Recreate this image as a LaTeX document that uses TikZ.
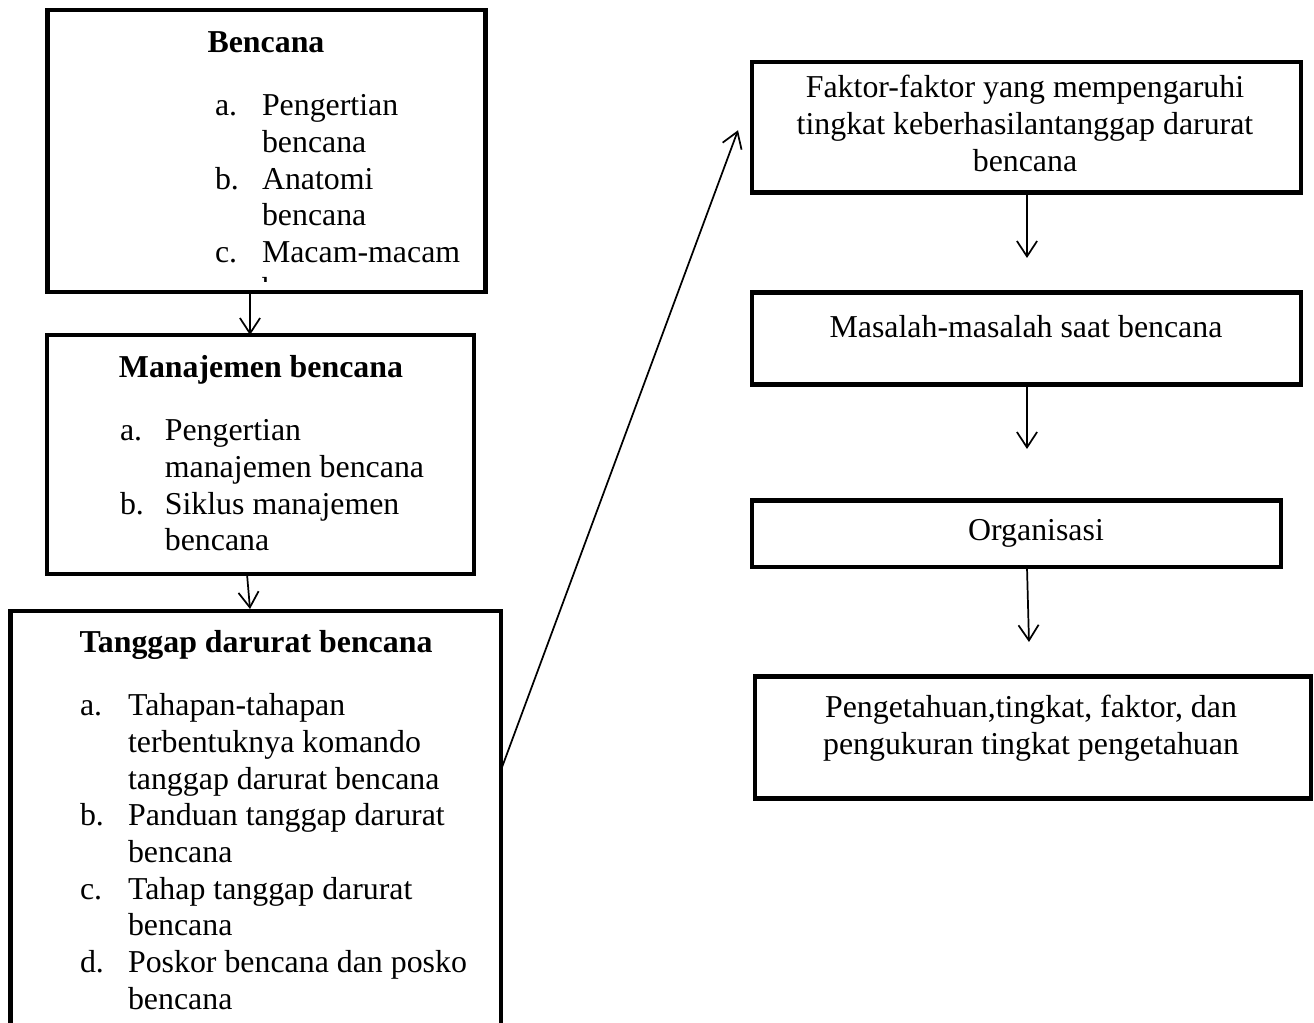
\documentclass[tikz,border=0pt]{standalone}
\usepackage{fontspec}
\setmainfont{Liberation Serif}
\usetikzlibrary{arrows.meta,fit}
\newdimen\pxu \pxu=0.3766pt
\begin{document}
\begin{tikzpicture}[x=0.3766pt,y=-0.3766pt,
  box/.style={draw,line width=1.6pt,rectangle,inner sep=0pt,outer sep=0pt},
  txt/.style={inner sep=0pt,outer sep=0pt,font=\fontsize{12}{13.8}\selectfont},
  ttl/.style={inner sep=0pt,outer sep=0pt,font=\fontsize{12}{13.8}\selectfont\bfseries},
  arr/.style={line width=0.65pt,-{Straight Barb[length=5.8pt,width=7.6pt]}}]
\useasboundingbox (0,0) rectangle (1314,1023);
\clip (0,0) rectangle (1314,1023);

% left column boxes
\node[box,fit={(47.5,10) (485.5,292)}] (b1) {};
\node[box,fit={(47,335) (474,574)}] (b2) {};
\node[box,fit={(10.5,611) (501,1060)}] (b3) {};

% box 1 text
\node[ttl,anchor=base] (b1t) at (266,53) {Bencana};
\begin{scope}
\clip (50,12) rectangle (483,282);
\node[txt,anchor=base west] (b1l) at (215,116) {\begin{tabular}[t]{@{}p{17.7pt}@{}l@{}}
a. & Pengertian\\
 & bencana\\
b. & Anatomi\\
 & bencana\\
c. & Macam-macam\\
 & bencana
\end{tabular}};
\end{scope}

% box 2 text
\node[ttl,anchor=base] (b2t) at (261,378) {Manajemen bencana};
\node[txt,anchor=base west] (b2l) at (120,441) {\begin{tabular}[t]{@{}p{16.9pt}@{}l@{}}
a. & Pengertian\\
 & manajemen bencana\\
b. & Siklus manajemen\\
 & bencana
\end{tabular}};

% box 3 text
\node[ttl,anchor=base] (b3t) at (256,653) {Tanggap darurat bencana};
\node[txt,anchor=base west] (b3l) at (80,716) {\begin{tabular}[t]{@{}p{18.1pt}@{}l@{}}
a. & Tahapan-tahapan\\
 & terbentuknya komando\\
 & tanggap darurat bencana\\
b. & Panduan tanggap darurat\\
 & bencana\\
c. & Tahap tanggap darurat\\
 & bencana\\
d. & Poskor bencana dan posko\\
 & bencana
\end{tabular}};

% right column boxes
\node[box,fit={(752,62) (1301,192.5)}] (f) {};
\node[box,fit={(752,292.5) (1301,384.5)}] (m) {};
\node[box,fit={(752,500.5) (1281,567)}] (o) {};
\node[box,fit={(755,676.5) (1311,798.5)}] (p) {};

\node[txt,anchor=base] (ft) at (1025,98) {\begin{tabular}[t]{@{}c@{}}
Faktor-faktor yang mempengaruhi\\
tingkat keberhasilantanggap darurat\\
bencana
\end{tabular}};
\node[txt,anchor=base] (mt) at (1026,338) {Masalah-masalah saat bencana};
\node[txt,anchor=base] (ot) at (1036,541) {Organisasi};
\node[txt,anchor=base] (pt) at (1031,718) {\begin{tabular}[t]{@{}c@{}}
Pengetahuan,tingkat, faktor, dan\\
pengukuran tingkat pengetahuan
\end{tabular}};

% connectors
\draw[arr] ([xshift=-16.5\pxu]b1.south) -- ([xshift=-10.5\pxu]b2.north);
\draw[arr] ([xshift=-13.5\pxu]b2.south) -- ([xshift=-5.75\pxu,yshift=2\pxu]b3.north);
\draw[arr] ([yshift=-159\pxu]b3.north east) -- ([xshift=-14\pxu,yshift=-3\pxu]f.west);
\draw[arr] ([xshift=0.5\pxu]f.south) -- ([xshift=0.5\pxu,yshift=34.5\pxu]m.north);
\draw[arr] ([xshift=0.5\pxu]m.south) -- ([xshift=10.5\pxu,yshift=51.5\pxu]o.north);
\draw[arr] ([xshift=10.5\pxu]o.south) -- ([xshift=-4\pxu,yshift=34.5\pxu]p.north);
\end{tikzpicture}
\end{document}
